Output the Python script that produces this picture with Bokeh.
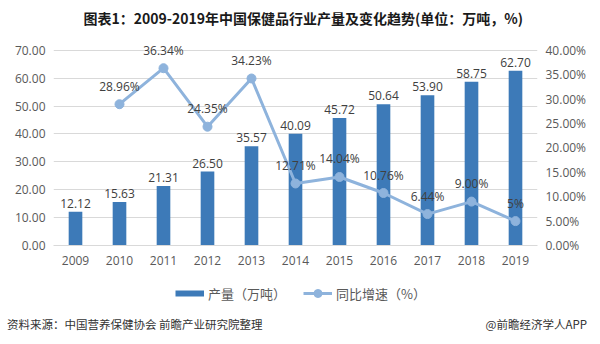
from bokeh.plotting import figure
from bokeh.layouts import column
from bokeh.models import (ColumnDataSource, FactorRange, Range1d, LinearAxis, FixedTicker,
                          NumeralTickFormatter, Legend, LegendItem, Div)
from bokeh.core.properties import value
from bokeh.embed import file_html
from bokeh.resources import INLINE

years = ["2009", "2010", "2011", "2012", "2013", "2014", "2015", "2016", "2017", "2018", "2019"]
output = [12.12, 15.63, 21.31, 26.50, 35.57, 40.09, 45.72, 50.64, 53.90, 58.75, 62.70]
growth_years = ["2010", "2011", "2012", "2013", "2014", "2015", "2016", "2017", "2018", "2019"]
growth = [28.96, 36.34, 24.35, 34.23, 12.71, 14.04, 10.76, 6.44, 9.00, 5.00]
growth_labels = ["28.96%", "36.34%", "24.35%", "34.23%", "12.71%", "14.04%", "10.76%", "6.44%", "9.00%", "5%"]
left_ticks = [0, 10, 20, 30, 40, 50, 60, 70]
right_ticks = [0, 0.05, 0.10, 0.15, 0.20, 0.25, 0.30, 0.35, 0.40]

title_text = "图表1：2009-2019年中国保健品行业产量及变化趋势(单位：万吨，%)"
source_text = "资料来源：中国营养保健协会 前瞻产业研究院整理"
brand_text = "@前瞻经济学人APP"
legend_labels = ["产量（万吨）", "同比增速（%）"]

BAR = "#3D7AB8"
LINE = "#8EB3DC"
TXT = "#404040"
NUM_FONT = "Open Sans"
CJK = "Noto Sans CJK SC"

Y_TOP = 76.4
PCT_TOP = 0.40 * Y_TOP / 70

bar_src = ColumnDataSource(dict(x=years, top=output, lab=["%.2f" % v for v in output]))
line_src = ColumnDataSource(dict(x=growth_years, y=[g / 100 for g in growth], lab=growth_labels))

p = figure(width=600, height=275, x_range=FactorRange(*years, range_padding=0),
           y_range=Range1d(0, Y_TOP), output_backend="svg", toolbar_location=None,
           min_border_left=53, min_border_right=63, min_border_top=30, min_border_bottom=30)
p.extra_y_ranges = {"pct": Range1d(0, PCT_TOP)}
p.outline_line_color = None
p.background_fill_color = "white"
p.border_fill_color = "white"

p.title.text = title_text
p.title.align = "left"
p.title.offset = 30
p.title.text_font = CJK
p.title.text_font_size = "14px"
p.title.text_font_style = "bold"
p.title.text_color = "#1a1a1a"

p.vbar(x="x", top="top", width=0.31, source=bar_src, fill_color=BAR, line_color=None)
p.text(x="x", y="top", text="lab", source=bar_src, text_align="center", text_baseline="bottom",
       y_offset=-4, text_font_size="12px", text_color=TXT, text_font=value(NUM_FONT))

p.line(x="x", y="y", source=line_src, y_range_name="pct", line_color=LINE, line_width=3)
p.scatter(x="x", y="y", source=line_src, y_range_name="pct", size=9,
          fill_color=LINE, line_color=LINE)
p.text(x="x", y="y", text="lab", source=line_src, y_range_name="pct", text_align="center",
       text_baseline="middle", y_offset=-18, text_font_size="12px", text_color=TXT,
       text_font=value(NUM_FONT))

ya = p.yaxis[0]
ya.ticker = FixedTicker(ticks=left_ticks)
ya.formatter = NumeralTickFormatter(format="0.00")

ra = LinearAxis(y_range_name="pct", ticker=FixedTicker(ticks=right_ticks),
                formatter=NumeralTickFormatter(format="0.00%"))
p.add_layout(ra, "right")

for ax in (ya, ra, p.xaxis[0]):
    ax.major_tick_line_color = None
    ax.minor_tick_line_color = None
    ax.major_tick_out = 0
    ax.major_tick_in = 0
    ax.minor_tick_out = 0
    ax.major_label_text_font = NUM_FONT
    ax.major_label_text_font_size = "12px"
    ax.major_label_text_color = "#595959"
    ax.major_label_standoff = 8
ya.axis_line_color = None
ra.axis_line_color = None
p.xaxis[0].axis_line_color = "#D9D9D9"
p.xaxis[0].major_label_standoff = 10

p.xgrid.grid_line_color = None
p.ygrid.grid_line_color = "#D9D9D9"

# legend strip: its own small figure; the swatch renderers hold no drawable point
lf = figure(width=600, height=30, x_range=Range1d(0, 1), y_range=Range1d(0, 1),
            x_axis_type=None, y_axis_type=None, output_backend="svg", toolbar_location=None,
            min_border=0, min_border_left=0, min_border_right=0, min_border_top=0,
            min_border_bottom=0)
lf.outline_line_color = None
lf.xgrid.grid_line_color = None
lf.ygrid.grid_line_color = None
nan = float("nan")
swatch = ColumnDataSource(dict(x=[nan], y=[nan]))
r_bar = lf.line(x="x", y="y", source=swatch, line_color=BAR, line_width=6)
r_ln = lf.line(x="x", y="y", source=swatch, line_color=LINE, line_width=3)
r_sc = lf.scatter(x="x", y="y", source=swatch, fill_color=LINE, line_color=LINE)
legend = Legend(items=[LegendItem(label=legend_labels[0], renderers=[r_bar]),
                       LegendItem(label=legend_labels[1], renderers=[r_ln, r_sc])],
                orientation="horizontal", location=(122, 2),
                label_text_font=CJK, label_text_font_size="13px", label_text_color="#595959",
                glyph_width=29, glyph_height=20, spacing=17, border_line_color=None,
                background_fill_alpha=0, padding=0, margin=0, label_standoff=4)
lf.add_layout(legend, "center")

footer = Div(text=(
    '<div style="display:flex;justify-content:space-between;align-items:center;'
    'width:590px;height:39px;padding:0 3px 0 7px;font-family:\'Noto Sans CJK SC\';'
    'font-size:11.5px;color:#333333;">'
    '<span>' + source_text + '</span><span>' + brand_text + '</span></div>'),
    width=600, height=39, margin=0)

layout = column(p, lf, footer, spacing=0)
open("out.html", "w").write(file_html(layout, INLINE))
